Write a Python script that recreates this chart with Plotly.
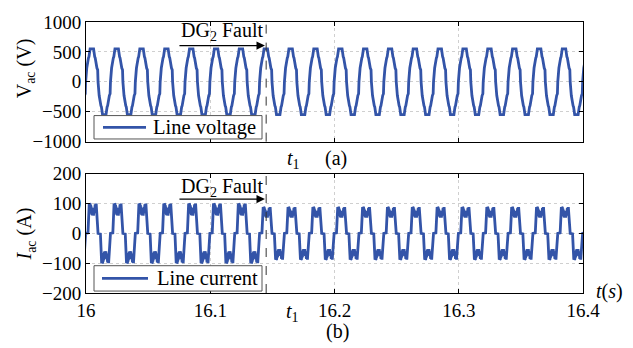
import numpy as np
import plotly.graph_objects as go

# ---------------- data ----------------
# Fundamental period (50 Hz) and first cycle start (voltage rising zero crossing)
period = 0.02
t_start = 15.9797
n_cycles = 23

# Line voltage: one positive half-cycle of the multilevel staircase (phase in cycles, level in V)
v_half_phase = [0.000, 0.015, 0.045, 0.115, 0.135, 0.180, 0.320, 0.365, 0.385, 0.455, 0.485, 0.500]
v_half_level = [0, 200, 230, 400, 420, 550, 550, 420, 400, 230, 200, 0]

# Line current: one positive half-cycle, normalised to the peak (switching ripple on the crest)
i_half_phase = [0.000, 0.095, 0.105, 0.120, 0.135, 0.145, 0.155, 0.165, 0.175, 0.185,
                0.195, 0.205, 0.215, 0.225, 0.235, 0.245, 0.255, 0.265, 0.275, 0.285,
                0.295, 0.305, 0.315, 0.325, 0.335, 0.345, 0.355, 0.365, 0.375, 0.385,
                0.395, 0.405, 0.415, 0.425, 0.435, 0.455, 0.475, 0.490, 0.500]
i_half_level = [0.00, 0.02, 0.45, 0.50, 0.85, 1.00, 0.78, 1.00, 0.80, 0.98,
                0.74, 0.95, 0.70, 0.90, 0.66, 0.84, 0.62, 0.78, 0.60, 0.76,
                0.62, 0.78, 0.60, 0.80, 0.64, 0.86, 0.68, 0.92, 0.72, 0.97,
                0.76, 1.00, 0.80, 1.00, 0.86, 0.50, 0.45, 0.02, 0.00]

# Current peak (A) for each cycle: 100 A before the DG2 fault, 88 A after it
i_peak = [100, 100, 100, 100, 100, 100, 100, 100,
          88, 88, 88, 88, 88, 88, 88, 88, 88, 88, 88, 88, 88, 88, 88]

t_fault = 16.145
x_ticks = [16, 16.1, 16.2, 16.3, 16.4]
x_ticktext = ["16", "16.1", "16.2", "16.3", "16.4"]
v_ticks = [-1000, -500, 0, 500, 1000]
i_ticks = [-200, -100, 0, 100, 200]


# ---------------- build waveforms ----------------
def cycle_shape(half_phase, half_level):
    ph = np.array(half_phase)
    lv = np.array(half_level, dtype=float)
    phase = np.concatenate([ph, ph[1:] + 0.5])
    level = np.concatenate([lv, -lv[1:]])
    return phase, level


vp, vl = cycle_shape(v_half_phase, v_half_level)
ip, il = cycle_shape(i_half_phase, i_half_level)

t_v, v_ac, t_i, i_ac = [], [], [], []
for k in range(n_cycles):
    t0 = t_start + k * period
    t_v.append(t0 + vp[:-1] * period)
    v_ac.append(vl[:-1])
    t_i.append(t0 + ip[:-1] * period)
    i_ac.append(il[:-1] * i_peak[k])
t_v = np.concatenate(t_v)
v_ac = np.concatenate(v_ac)
t_i = np.concatenate(t_i)
i_ac = np.concatenate(i_ac)

# ---------------- figure ----------------
blue = "#3354a8"
serif = "Liberation Serif"
fs_tick = 19
fs_text = 20
fs_leg = 20.5

# plot-area geometry in pixels, used to place labels and the framed legends
L, R, T, B = 86, 583, 15, 293


def px(xp):
    return (xp - L) / (R - L)


def py(yp):
    return (B - yp) / (B - T)


fig = go.Figure()
fig.add_trace(go.Scatter(x=t_v, y=v_ac, mode="lines", name="Line voltage",
                         line=dict(color=blue, width=2.8), xaxis="x", yaxis="y",
                         showlegend=False))
fig.add_trace(go.Scatter(x=t_i, y=i_ac, mode="lines", name="Line current",
                         line=dict(color=blue, width=2.8), xaxis="x2", yaxis="y2",
                         showlegend=False))

axis_common = dict(showline=True, linecolor="black", linewidth=1, mirror="ticks",
                   ticks="inside", ticklen=4, tickcolor="black",
                   showgrid=True, gridcolor="#cfcfcf", griddash="dot", gridwidth=1,
                   zeroline=False, tickfont=dict(family=serif, size=fs_tick, color="black"))

fig.update_layout(
    width=633, height=348,
    margin=dict(l=L, r=633 - R, t=T, b=348 - B),
    paper_bgcolor="white", plot_bgcolor="white",
    font=dict(family=serif, size=fs_text, color="black"),
    xaxis=dict(domain=[0, 1], anchor="y", range=[16, 16.4], tickvals=x_ticks,
               showticklabels=False, **axis_common),
    yaxis=dict(domain=[py(137.7), 1.0], anchor="x", range=[-1000, 1000], tickvals=v_ticks,
               **axis_common),
    xaxis2=dict(domain=[0, 1], anchor="y2", range=[16, 16.4], tickvals=x_ticks,
                ticktext=x_ticktext, **axis_common),
    yaxis2=dict(domain=[0, py(170.7)], anchor="x2", range=[-200, 200], tickvals=i_ticks,
                **axis_common),
)

# fault instant
for xr, yref in [("x", "y domain"), ("x2", "y2 domain")]:
    fig.add_shape(type="line", xref=xr, yref=yref, x0=t_fault, x1=t_fault, y0=0, y1=1,
                  line=dict(color="#333333", width=1, dash="dash"))

# fault arrows with labels
for xr, yr, y_arrow, y_text in [("x", "y", 605, 833), ("x2", "y2", 115, 153)]:
    fig.add_annotation(x=t_fault - 0.001, y=y_arrow, xref=xr, yref=yr,
                       ax=16.074, ay=y_arrow, axref=xr, ayref=yr, text="",
                       showarrow=True, arrowhead=2, arrowsize=1.3, arrowwidth=1.3,
                       arrowcolor="black")
    fig.add_annotation(x=16.1095, y=y_text, xref=xr, yref=yr,
                       xanchor="center", yanchor="middle",
                       text="DG<sub>2</sub> Fault", showarrow=False,
                       font=dict(family=serif, size=fs_text))

# legends: framed box, line sample and label
for (x0, x1, y0, y1, lx0, lx1, tx, name) in [
        (94, 262, 111, 135, 103, 146, 151, "Line voltage"),
        (94, 262, 265, 291, 102, 148, 155, "Line current")]:
    fig.add_shape(type="rect", xref="paper", yref="paper",
                  x0=px(x0), x1=px(x1), y0=py(y1), y1=py(y0),
                  line=dict(color="#555555", width=1), fillcolor="white", layer="above")
    ym = (y0 + y1) / 2
    fig.add_shape(type="line", xref="paper", yref="paper",
                  x0=px(lx0), x1=px(lx1), y0=py(ym), y1=py(ym),
                  line=dict(color=blue, width=2.8), layer="above")
    fig.add_annotation(x=px(tx), y=py(ym), xref="paper", yref="paper",
                       xanchor="left", yanchor="middle", text=name, showarrow=False,
                       font=dict(family=serif, size=fs_leg))

# y-axis titles
fig.add_annotation(x=px(25), y=py(62.5), xref="paper", yref="paper", textangle=-90,
                   xanchor="center", yanchor="middle",
                   text="V<sub>ac</sub> (V)", showarrow=False,
                   font=dict(family=serif, size=fs_text))
fig.add_annotation(x=px(26), y=py(233), xref="paper", yref="paper", textangle=-90,
                   xanchor="center", yanchor="middle",
                   text="<i>I</i><sub>ac</sub> (A)", showarrow=False,
                   font=dict(family=serif, size=fs_text))

# time markers and panel labels
labels = [
    (293, 156, "<i>t</i><sub>1</sub>"),
    (336, 155, "(a)"),
    (292, 313, "<i>t</i><sub>1</sub>"),
    (337, 333, "(b)"),
    (609, 291, "<i>t</i>(<i>s</i>)"),
]
for x, y, txt in labels:
    fig.add_annotation(x=px(x), y=py(y), xref="paper", yref="paper", text=txt,
                       xanchor="center", yanchor="middle",
                       showarrow=False, font=dict(family=serif, size=fs_text))

fig.write_html("out.html")
